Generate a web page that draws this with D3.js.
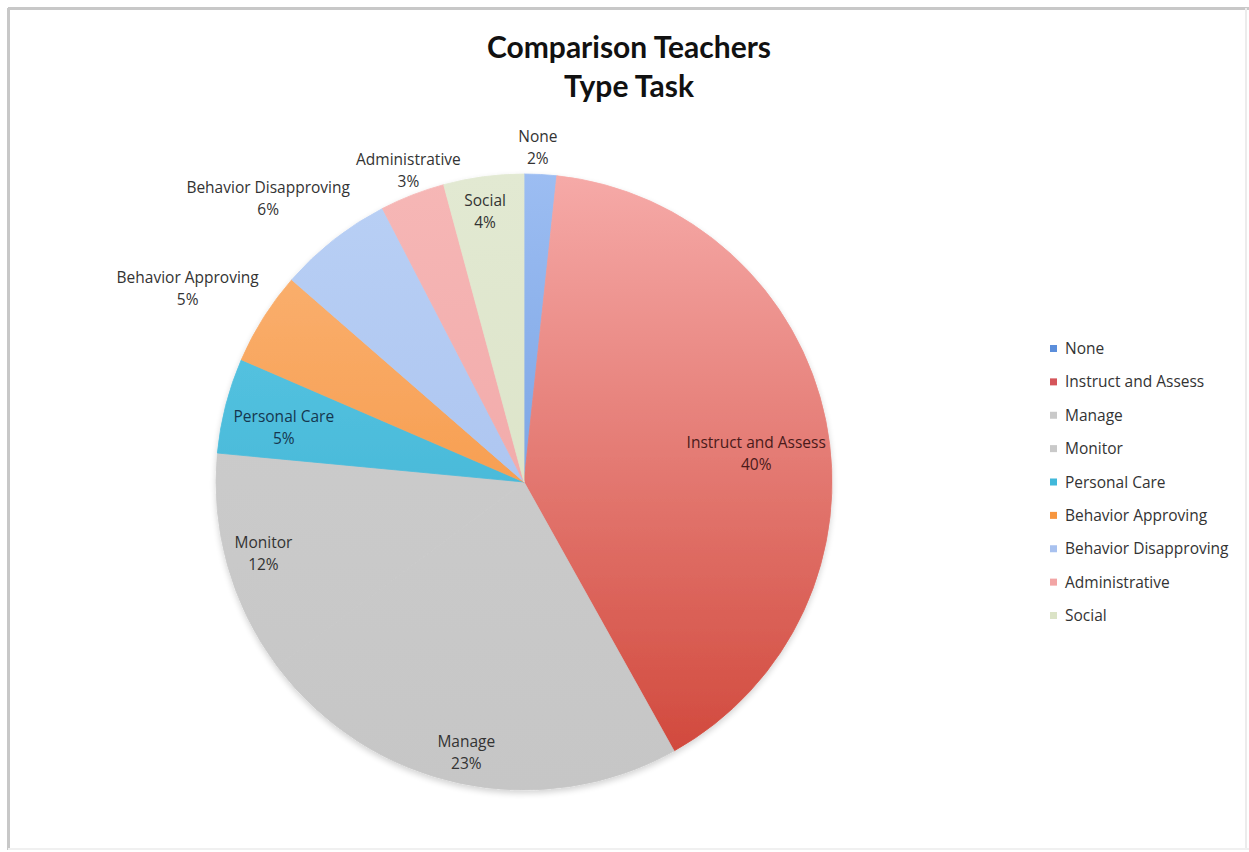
<!DOCTYPE html>
<html><head><meta charset="utf-8">
<script src="https://cdn.jsdelivr.net/npm/d3@7"></script>
<style>html,body{margin:0;padding:0;background:#fff;}svg{display:block;}</style>
</head><body>
<svg id="chart" width="1249" height="852"></svg>
<script>
// ---- data ----
const categories = ["None","Instruct and Assess","Manage","Monitor","Personal Care","Behavior Approving","Behavior Disapproving","Administrative","Social"];
const values = [1.7, 40.2, 22.9, 11.7, 5.0, 4.9, 6.0, 3.4, 4.2];
const percentLabels = ["2%","40%","23%","12%","5%","5%","6%","3%","4%"];
const titleLines = ["Comparison Teachers","Type Task"];

// ---- styles / layout ----
const baseColors = ["#5b8edb","#d5555a","#c9c9c9","#c9c9c9","#41b8da","#f7963f","#a8c1ef","#f2a5a5","#dbe3c6"];
const topColors  = ["#9cbdf2","#f6aaa8","#cecece","#cecece","#5fcbe8","#fbb67a","#b9d0f5","#f6b7b6","#e2e9d2"];
const botColors  = ["#5e8fd8","#cf4336","#c6c6c6","#c6c6c6","#36aacb","#f3882a","#a3bcec","#eea0a0","#d8e0c2"];
const labelRadius = [1.09, 0.76, 0.897, 0.877, 0.80, 1.26, 1.24, 1.08, 0.89];
const labelAngleShift = [-0.7, 4.3, 0, 0.4, -1.5, -2.3, -3.9, 0.9, -0.6];
const labelColors = ["#333","#4a1a1a","#333","#333","#15374f","#333","#333","#333","#333"];

const svg = d3.select("#chart");
const W = 1249, H = 852;
const cx = 524, cy = 482, R = 308;

// frame
svg.append("line").attr("x1",8).attr("y1",8.5).attr("x2",W).attr("y2",8.5).attr("stroke","#c8c8c8").attr("stroke-width",3);
svg.append("line").attr("x1",8.5).attr("y1",8).attr("x2",8.5).attr("y2",H-2).attr("stroke","#c8c8c8").attr("stroke-width",3);
svg.append("line").attr("x1",W-3).attr("y1",8).attr("x2",W-3).attr("y2",H-2).attr("stroke","#ececec").attr("stroke-width",2);
svg.append("line").attr("x1",8).attr("y1",H-3).attr("x2",W).attr("y2",H-3).attr("stroke","#f0f0f0").attr("stroke-width",2);

// title
const title = svg.append("text").attr("text-anchor","middle")
  .attr("font-family","Lato, 'Open Sans', sans-serif").attr("font-weight","bold")
  .attr("font-size",30).attr("fill","#111");
titleLines.forEach((t,i)=>{
  title.append("tspan").attr("x",629).attr("y",58+i*39).text(t);
});

// gradients
const defs = svg.append("defs");
categories.forEach((c,i)=>{
  const g = defs.append("linearGradient").attr("id","grad"+i)
    .attr("gradientUnits","userSpaceOnUse")
    .attr("x1",0).attr("y1",-R).attr("x2",0).attr("y2",R);
  g.append("stop").attr("offset","0%").attr("stop-color",topColors[i]);
  g.append("stop").attr("offset","100%").attr("stop-color",botColors[i]);
});
const shadow = defs.append("filter").attr("id","shadow").attr("x","-10%").attr("y","-10%").attr("width","120%").attr("height","125%");
shadow.append("feGaussianBlur").attr("in","SourceAlpha").attr("stdDeviation",3);
shadow.append("feOffset").attr("dy",3).attr("result","ob");
shadow.append("feComponentTransfer").append("feFuncA").attr("type","linear").attr("slope",0.18);
const fm = shadow.append("feMerge");
fm.append("feMergeNode");
fm.append("feMergeNode").attr("in","SourceGraphic");

// pie
const data = categories.map((c,i)=>({name:c, value:values[i], idx:i}));
const pie = d3.pie().sort(null).value(d=>d.value);
const arcs = pie(data);
const arc = d3.arc().innerRadius(0).outerRadius(R);

const g = svg.append("g").attr("transform",`translate(${cx},${cy})`);
g.append("g").attr("filter","url(#shadow)")
  .selectAll("path").data(arcs).join("path")
  .attr("d",arc)
  .attr("fill",d=>`url(#grad${d.data.idx})`)
  .attr("stroke",d=>`url(#grad${d.data.idx})`)
  .attr("stroke-width",0.8)
  .attr("stroke-linejoin","round");

// labels
const lab = g.append("g").attr("font-family","'Open Sans', 'Noto Sans', sans-serif").attr("font-size",15.5);
arcs.forEach(d=>{
  const i = d.data.idx;
  const mid = (d.startAngle+d.endAngle)/2 + labelAngleShift[i]*Math.PI/180;
  const r = R*labelRadius[i];
  const x = Math.sin(mid)*r, y = -Math.cos(mid)*r;
  const t = lab.append("text").attr("text-anchor","middle").attr("fill",labelColors[i]);
  t.append("tspan").attr("x",x).attr("y",y-5).text(d.data.name);
  t.append("tspan").attr("x",x).attr("y",y+17).text(percentLabels[i]);
});

// legend
const leg = svg.append("g").attr("font-family","'Open Sans', 'Noto Sans', sans-serif").attr("font-size",15.5);
const ly = d3.scalePoint().domain(categories).range([349,616]);
categories.forEach((c,i)=>{
  leg.append("rect").attr("x",1050).attr("y",ly(c)-4).attr("width",7).attr("height",7).attr("fill",baseColors[i]);
  leg.append("text").attr("x",1065).attr("y",ly(c)+5).attr("fill","#333").text(c);
});
</script>
</body></html>
